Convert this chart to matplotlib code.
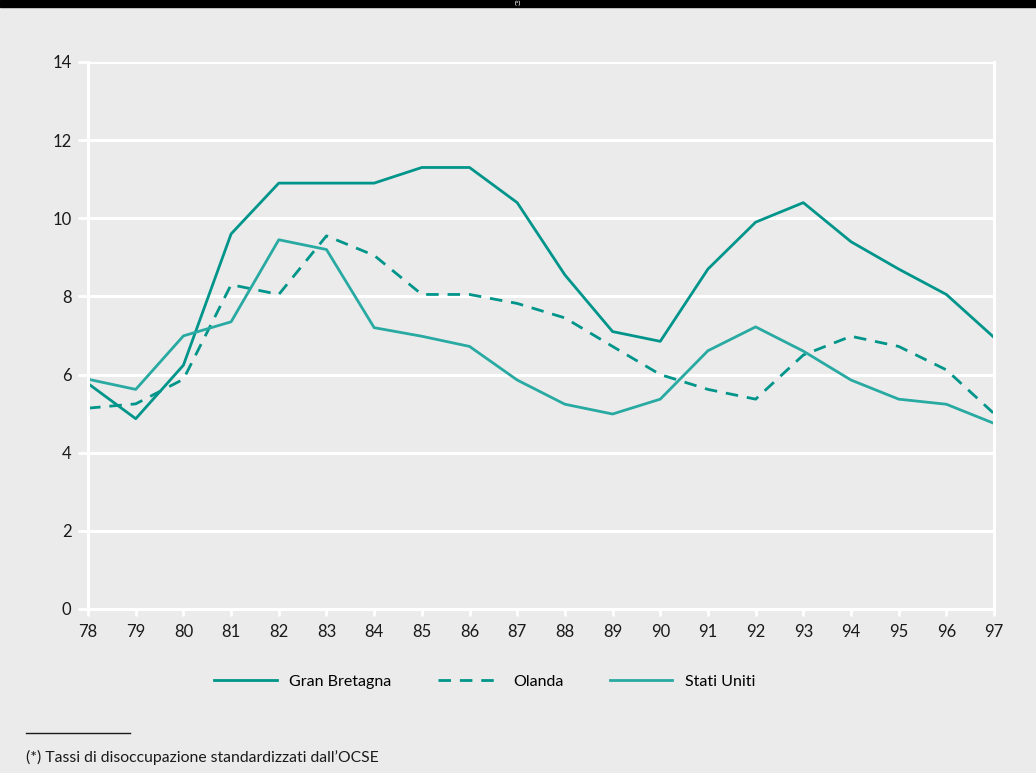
import numpy as np
import matplotlib
matplotlib.use("Agg")
import matplotlib.pyplot as plt

plt.rcParams['font.family'] = ['Lato', 'DejaVu Sans']

# tassi di disoccupazione (%), 1978-1997
anni = ['78', '79', '80', '81', '82', '83', '84', '85', '86', '87',
        '88', '89', '90', '91', '92', '93', '94', '95', '96', '97']
gran_bretagna = [5.77, 4.87, 6.24, 9.6, 10.9, 10.9, 10.9, 11.3, 11.3, 10.4,
                 8.55, 7.1, 6.85, 8.7, 9.9, 10.4, 9.4, 8.7, 8.05, 6.95]
olanda = [5.14, 5.25, 5.88, 8.3, 8.05, 9.55, 9.05, 8.05, 8.05, 7.82,
          7.45, 6.72, 6.0, 5.62, 5.37, 6.5, 6.98, 6.72, 6.12, 5.0]
stati_uniti = [5.88, 5.62, 6.99, 7.35, 9.45, 9.2, 7.2, 6.98, 6.72, 5.86,
               5.24, 4.99, 5.37, 6.61, 7.22, 6.6, 5.86, 5.37, 5.24, 4.75]

bg = '#ebebeb'
scuro = '#00958a'
chiaro = '#28aaa2'

fig = plt.figure(figsize=(10.36, 7.73), dpi=100, facecolor=bg)
ax = fig.add_axes([0.085, 0.2122, 0.8745, 0.7076])
ax.set_facecolor(bg)

x = np.arange(len(anni))
ax.plot(x, gran_bretagna, color=scuro, lw=2.0, label='Gran Bretagna')
ax.plot(x, olanda, color=scuro, lw=2.0, dashes=(4.5, 3.2), label='Olanda')
ax.plot(x, stati_uniti, color=chiaro, lw=2.0, label='Stati Uniti')

ax.set_xlim(0, len(anni) - 1)
ax.set_ylim(0, 14)
ax.set_xticks(x)
ax.set_xticklabels(anni)
ax.set_yticks(range(0, 15, 2))

ax.grid(axis='y', color='white', lw=2.2)
ax.set_axisbelow(True)
ax.spines['top'].set_visible(False)
for s in ['left', 'bottom', 'right']:
    ax.spines[s].set_color('white')
    ax.spines[s].set_linewidth(2.2)
ax.tick_params(axis='x', colors='white', length=5, width=2, labelcolor='#1a1a1a',
               labelsize=12, pad=6)
ax.tick_params(axis='y', colors='white', length=7, width=2, labelcolor='#1a1a1a',
               labelsize=12, pad=5)

fig.legend(loc='center', bbox_to_anchor=(0.468, 0.118), ncol=3, frameon=False,
           fontsize=11.5, handlelength=3.9, columnspacing=2.9, handletextpad=0.8)

# fascia del titolo in alto
fig.patches.append(plt.Rectangle((0, 1 - 7 / 773), 1, 7 / 773, transform=fig.transFigure,
                                 color='black', zorder=0))
fig.text(0.5, 1 - 3.5 / 773, '(*)', color='white', ha='center', va='center',
         fontsize=4.5, fontweight='bold')

# nota
fig.add_artist(plt.Line2D([26 / 1036, 130 / 1036], [1 - 733 / 773] * 2,
                          transform=fig.transFigure, color='#1a1a1a', lw=1))
fig.text(26 / 1036, 1 - 757 / 773, "(*) Tassi di disoccupazione standardizzati dall\u2019OCSE",
         fontsize=11.3, color='#1a1a1a', va='center', ha='left')

fig.savefig('out.png', dpi=100, facecolor=bg)
